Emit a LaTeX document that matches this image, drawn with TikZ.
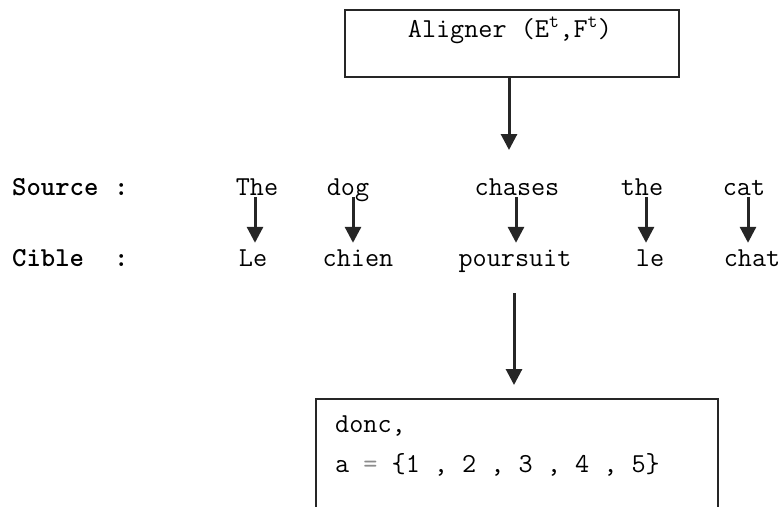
\documentclass[tikz,border=0pt]{standalone}
\usepackage{fontspec}
\usetikzlibrary{arrows.meta,calc}

\tikzset{
  frame/.style={draw=black!85, line width=2.2pt, inner sep=0pt},
  txt/.style={inner sep=0pt, anchor=base, font=\ttfamily\fontsize{27.4}{32}\selectfont},
  lbl/.style={txt, anchor=base west, font=\ttfamily\fontsize{27.4}{32}\selectfont\bfseries},
  word/.style={txt, text height=17pt, text depth=2pt},
  arr/.style={draw=black!85, line width=3pt,
    -{Triangle[length=16pt,width=16pt]}},
}

\begin{document}
\begin{tikzpicture}[x=1pt,y=-1pt]
  \useasboundingbox (0,0) rectangle (783,506);
  \clip (0,0) rectangle (783,506);

  % aligner box
  \node[frame, minimum width=334pt, minimum height=67pt] (aligner) at (512,43.5) {};
  \node[txt] (alignertxt) at (510,37) {Aligner (E\textsuperscript{t},F\textsuperscript{t})};
  \coordinate (pairtop) at (509,150);
  \draw[arr] (aligner.south -| pairtop) -- (pairtop);

  % row labels
  \node[lbl] (source) at (12,195) {Source};
  \node[lbl] (sourcecolon) at (114,195) {:};
  \node[lbl] (cible) at (12,266) {Cible};
  \node[lbl] (ciblecolon) at (114,266) {:};

  % source words
  \node[word] (s1) at (257,195) {The};
  \node[word] (s2) at (348,195) {dog};
  \node[word] (s3) at (517,195) {chases};
  \node[word] (s4) at (642,195) {the};
  \node[word] (s5) at (744,195) {cat};

  % target words
  \node[word] (t1) at (253,266) {Le};
  \node[word] (t2) at (358,266) {chien};
  \node[word] (t3) at (515,266) {poursuit};
  \node[word] (t4) at (650,266) {le};
  \node[word] (t5) at (752,266) {chat};

  % word links
  \foreach \i in {1,...,5} {
    \coordinate (m\i) at ($(s\i.south)!.5!(t\i.north)$);
    \draw[arr] (m\i |- s\i.south) -- ($(m\i |- t\i.north)+(0,-6)$);
  }

  % result box
  \coordinate (resultstart) at (514,293);
  \node[frame, anchor=north west, minimum width=402pt, minimum height=160pt] (result) at (315,398) {};
  \draw[arr, shorten >=13pt] (resultstart) -- (result.north -| resultstart);
  \node[txt, anchor=base west] (donc) at (335,432) {donc,};
  \node[txt, anchor=base west] (avec) at (335,472) {a \textcolor{black!45}{=} \{1 , 2 , 3 , 4 , 5\}};
\end{tikzpicture}
\end{document}
